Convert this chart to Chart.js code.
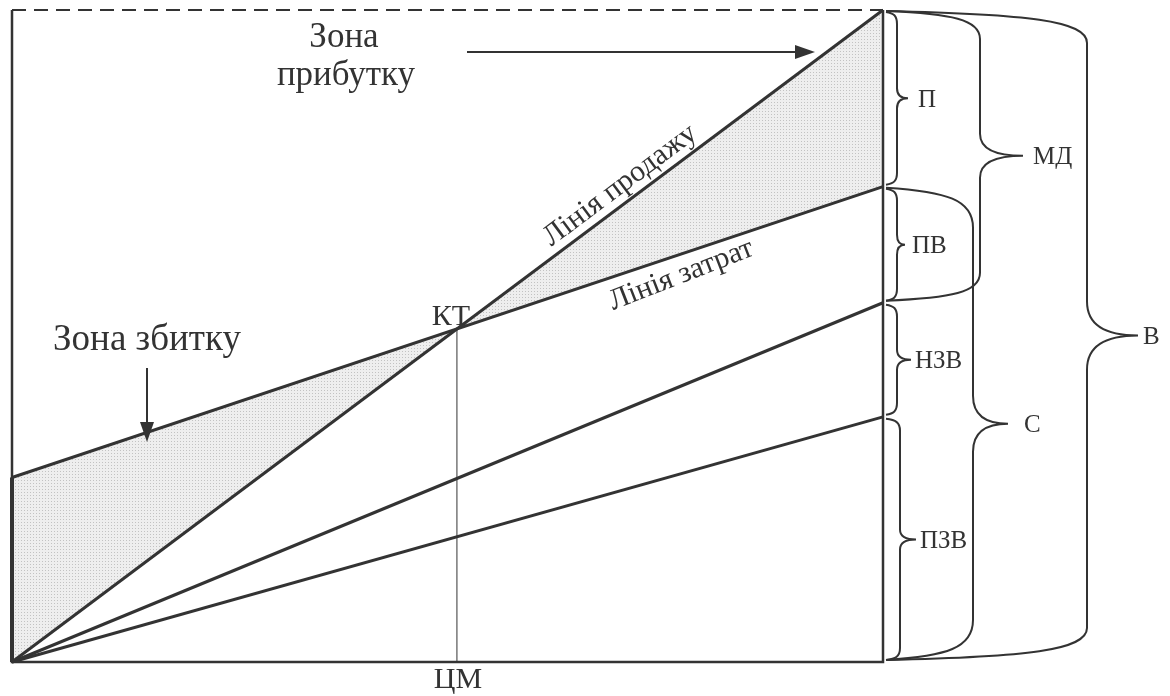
<!DOCTYPE html>
<html>
<head>
<meta charset="utf-8">
<script src="https://cdn.jsdelivr.net/npm/chart.js@4/dist/chart.umd.min.js"></script>
<style>
  body { margin: 0; background: #fff; }
  canvas { display: block; }
</style>
</head>
<body>
<canvas id="chart" width="1170" height="696"></canvas>
<script>
// обсяг (умовні одиниці) і рівні ліній на початку / в кінці
const volume = [0, 100];
const salesLine = [0, 100];          // Лінія продажу
const costLine = [28.3, 72.9];       // Лінія затрат
const variableLine = [0, 55.1];      // верх НЗВ
const propVariableLine = [0, 37.6];  // верх ПЗВ

const ink = '#333';
const serif = '"Liberation Serif", "DejaVu Serif", serif';

const toPoints = arr => volume.map((x, i) => ({ x, y: arr[i] }));

// точка беззбитковості (КТ)
const costSlope = (costLine[1] - costLine[0]) / (volume[1] - volume[0]);
const salesSlope = (salesLine[1] - salesLine[0]) / (volume[1] - volume[0]);
const beX = costLine[0] / (salesSlope - costSlope);
const beY = salesSlope * beX;

function dotPattern() {
    const c = document.createElement('canvas');
    c.width = 3; c.height = 3;
    const g = c.getContext('2d');
    g.fillStyle = '#eeeeee';
    g.fillRect(0, 0, 3, 3);
    g.fillStyle = '#c2c2c2';
    g.fillRect(0, 0, 1, 1);
    return g.createPattern(c, 'repeat');
}
const dots = dotPattern();

function brace(ctx, x0, xs, xt, yTop, yMid, yBot, r, r2) {
    ctx.beginPath();
    ctx.moveTo(x0, yTop);
    ctx.bezierCurveTo(x0 + (xs - x0) * 0.7, yTop + r * 0.1, xs, yTop + r * 0.3, xs, yTop + r);
    ctx.lineTo(xs, yMid - r2);
    ctx.quadraticCurveTo(xs, yMid, xt, yMid);
    ctx.moveTo(xt, yMid);
    ctx.quadraticCurveTo(xs, yMid, xs, yMid + r2);
    ctx.lineTo(xs, yBot - r);
    ctx.bezierCurveTo(xs, yBot - r * 0.3, x0 + (xs - x0) * 0.7, yBot - r * 0.1, x0, yBot);
    ctx.stroke();
}

function arrow(ctx, x1, y1, x2, y2) {
    const a = Math.atan2(y2 - y1, x2 - x1);
    ctx.beginPath();
    ctx.moveTo(x1, y1);
    ctx.lineTo(x2 - 18 * Math.cos(a), y2 - 18 * Math.sin(a));
    ctx.stroke();
    ctx.save();
    ctx.translate(x2, y2);
    ctx.rotate(a);
    ctx.beginPath();
    ctx.moveTo(0, 0);
    ctx.lineTo(-20, -7);
    ctx.lineTo(-20, 7);
    ctx.closePath();
    ctx.fill();
    ctx.restore();
}

const decor = {
    id: 'decor',
    afterDatasetsDraw(chart) {
        const { ctx, chartArea: a, scales: { x, y } } = chart;
        const X = v => x.getPixelForValue(v);
        const Y = v => y.getPixelForValue(v);
        ctx.save();
        ctx.strokeStyle = ink;
        ctx.fillStyle = ink;
        ctx.lineCap = 'butt';

        // рамка
        ctx.lineWidth = 2.5;
        ctx.beginPath();
        ctx.moveTo(a.left, a.top);
        ctx.lineTo(a.left, a.bottom);
        ctx.lineTo(a.right, a.bottom);
        ctx.lineTo(a.right, a.top);
        ctx.stroke();
        ctx.lineWidth = 4;
        ctx.beginPath();
        ctx.moveTo(a.left, Y(costLine[0]));
        ctx.lineTo(a.left, a.bottom);
        ctx.stroke();
        ctx.lineWidth = 2;
        ctx.setLineDash([14, 8]);
        ctx.beginPath();
        ctx.moveTo(a.left, a.top);
        ctx.lineTo(a.right, a.top);
        ctx.stroke();
        ctx.setLineDash([]);

        // написи
        ctx.textAlign = 'center';
        ctx.textBaseline = 'alphabetic';
        ctx.font = `35px ${serif}`;
        ctx.fillText('Зона', 344, 47);
        ctx.fillText('прибутку', 346, 85);
        ctx.font = `37px ${serif}`;
        ctx.fillText('Зона збитку', 147, 350);
        ctx.font = `30px ${serif}`;
        ctx.fillText('КТ', X(beX) - 6, Y(beY) - 4);
        ctx.fillText('ЦМ', X(beX) + 1, 688);

        ctx.lineWidth = 2;
        arrow(ctx, 467, 52, 815, 52);
        arrow(ctx, 147, 368, 147, 442);

        // підписи вздовж ліній
        ctx.font = `30px ${serif}`;
        let ang = Math.atan2(Y(salesLine[1]) - Y(salesLine[0]), X(volume[1]) - X(volume[0]));
        ctx.save();
        ctx.translate(X(71), Y(71 * salesSlope));
        ctx.rotate(ang);
        ctx.textBaseline = 'bottom';
        ctx.fillText('Лінія продажу', 0, -2);
        ctx.restore();

        ang = Math.atan2(Y(costLine[1]) - Y(costLine[0]), X(volume[1]) - X(volume[0])) - 0.05;
        ctx.save();
        ctx.translate(X(76), Y(costLine[0] + 76 * costSlope));
        ctx.rotate(ang);
        ctx.textBaseline = 'top';
        ctx.fillText('Лінія затрат', 0, 5);
        ctx.restore();

        // фігурні дужки праворуч
        const R = a.right;
        ctx.lineWidth = 2;
        ctx.font = `25px ${serif}`;
        ctx.textAlign = 'left';
        ctx.textBaseline = 'middle';
        const small = [
            ['П', 100, costLine[1], 14, 25, 918],
            ['ПВ', costLine[1], variableLine[1], 14, 22, 912],
            ['НЗВ', variableLine[1], propVariableLine[1], 14, 28, 915],
            ['ПЗВ', propVariableLine[1], 0, 17, 33, 920]
        ];
        small.forEach(([t, top, bot, s, tip, lx]) => {
            const yt = Y(top) + 2, yb = Y(bot) - 2;
            brace(ctx, R + 3, R + s, R + tip, yt, (yt + yb) / 2, yb, 12, 10);
            ctx.fillText(t, lx, (yt + yb) / 2 + 2);
        });
        const big = [
            ['МД', 100, variableLine[1], 97, 140, 1033, 28, 22],
            ['С', costLine[1], 0, 90, 125, 1024, 40, 28],
            ['В', 100, 0, 204, 255, 1143, 32, 34]
        ];
        big.forEach(([t, top, bot, s, tip, lx, r, r2]) => {
            const yt = Y(top) + 1, yb = Y(bot) - 2;
            brace(ctx, R + 3, R + s, R + tip, yt, (yt + yb) / 2, yb, r, r2);
            ctx.fillText(t, lx, (yt + yb) / 2 + 2);
        });
        ctx.restore();
    }
};

const lineStyle = { borderColor: ink, borderWidth: 3, pointRadius: 0, showLine: true, clip: false };

new Chart(document.getElementById('chart'), {
    type: 'scatter',
    data: {
        datasets: [
            { ...lineStyle, label: 'Лінія продажу', data: toPoints(salesLine),
              fill: { target: 1, above: dots, below: dots } },
            { ...lineStyle, label: 'Лінія затрат', data: toPoints(costLine), fill: false },
            { ...lineStyle, label: 'НЗВ', data: toPoints(variableLine), fill: false },
            { ...lineStyle, label: 'ПЗВ', data: toPoints(propVariableLine), fill: false },
            { ...lineStyle, label: 'ЦМ', borderWidth: 1, fill: false,
              data: [{ x: beX, y: 0 }, { x: beX, y: beY }] }
        ]
    },
    options: {
        responsive: false,
        animation: false,
        layout: { padding: { left: 12, right: 287, top: 10, bottom: 34 } },
        plugins: {
            legend: { display: false },
            tooltip: { enabled: false },
            filler: { drawTime: 'beforeDatasetsDraw' }
        },
        scales: {
            x: { type: 'linear', min: 0, max: 100, display: false },
            y: { min: 0, max: 100, display: false }
        }
    },
    plugins: [decor]
});
</script>
</body>
</html>
